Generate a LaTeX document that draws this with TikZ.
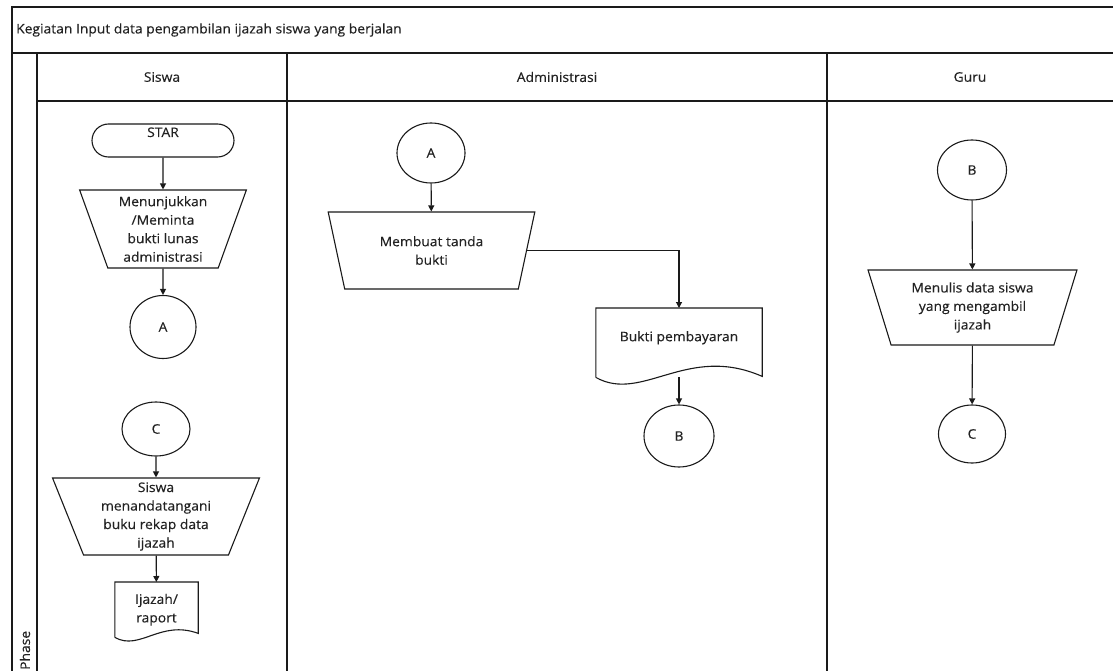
\documentclass[tikz,border=0pt]{standalone}
\usepackage{fontspec}
\setmainfont{Open Sans}[FakeStretch=1.05,FakeBold=0.3]
\usetikzlibrary{shapes.geometric,arrows.meta,calc}
\definecolor{ln}{HTML}{1A1A1A}
\definecolor{tx}{HTML}{222222}
\newcommand\lblfont{\fontsize{13.2}{18.5}\selectfont}
\begin{document}
\begin{tikzpicture}[x=1pt,y=-1pt,
  frame/.style={draw=ln, line width=1.8},
  shp/.style={draw=ln, line width=1.1, text=tx, font=\lblfont, align=center},
  plain/.style={text=tx, font=\lblfont, inner sep=1},
  trap/.style={shp, trapezium, shape border rotate=180, trapezium left angle=71,
    trapezium right angle=71, trapezium stretches=true, inner sep=0},
  conn/.style={shp, ellipse, inner sep=0},
  docbox/.style={text=tx, font=\lblfont, align=center, inner sep=2},
  outl/.style={draw=ln, line width=1.1},
  arr/.style={draw=ln, line width=1.1, -{Triangle[length=6,width=6]}}]
\useasboundingbox (0,0) rectangle (1113,671);
\fill[white] (0,0) rectangle (1113,671);

% frame
\draw[frame] (12,671) -- (12,7) -- (1113,7);
\draw[frame] (12,53) -- (1113,53);
\draw[frame] (37,101) -- (1113,101);
\draw[frame] (37,53) -- (37,671);
\draw[frame] (287,53) -- (287,671);
\draw[frame] (827,53) -- (827,671);

\node[plain, anchor=west] (title) at (15,30) {Kegiatan Input data pengambilan ijazah siswa yang berjalan};
\node[plain] (hsiswa) at (162,77) {Siswa};
\node[plain] (hadmin) at (557,77) {Administrasi};
\node[plain] (hguru) at (970,77) {Guru};
\node[plain, rotate=90, anchor=west] (phase) at (25,671) {Phase};

% Siswa lane
\node[shp, rounded corners=16.5, minimum width=142, minimum height=33,
  inner ysep=2, text height=11, text depth=18] (star) at (163,140.5) {STAR};
\node[trap, minimum width=167, minimum height=78] (t1) at (163,229)
  {Menunjukkan\\/Meminta\\bukti lunas\\administrasi};
\node[conn, minimum width=66, minimum height=63] (a1) at (163,327) {A};
\node[conn, minimum width=68, minimum height=54] (c1) at (156,429) {C};
\node[trap, minimum width=207, minimum height=77] (t2) at (156,516.5)
  {Siswa\\menandatangani\\buku rekap data\\ijazah};
\node[docbox, minimum width=83, minimum height=55, anchor=north] (ij) at (156.5,582) {Ijazah/\\raport};
\draw[outl] (ij.south west) -- (ij.north west) -- (ij.north east) -- ($(ij.south east)+(0,-4)$)
  .. controls ($(ij.south west)+(0.55*83,-18)$) and ($(ij.south west)+(0.3*83,14)$) .. (ij.south west);

\draw[arr] (star) -- (t1);
\draw[arr] (t1) -- (a1);
\draw[arr] (c1) -- (t2);
\draw[arr] (t2) -- (ij);

% Administrasi lane
\node[conn, minimum width=68, minimum height=60] (a2) at (431,153) {A};
\node[trap, minimum width=207, minimum height=77] (t3) at (431.5,250.5)
  {Membuat tanda\\bukti};
\node[docbox, minimum width=166, minimum height=69, anchor=north,
  text height=31, text depth=34] (bp) at (679,308) {Bukti pembayaran};
\draw[outl] (bp.south west) -- (bp.north west) -- (bp.north east) -- ($(bp.south east)+(0,-1)$)
  .. controls ($(bp.south west)+(0.55*166,-34)$) and ($(bp.south west)+(0.28*166,26)$) .. (bp.south west);
\node[conn, minimum width=70, minimum height=62] (b2) at (679,436) {B};

\draw[arr] (a2) -- (t3);
\draw[arr] (t3.east) -| (bp.north);
\draw[arr] (bp.south) -- (b2);

% Guru lane
\node[conn, minimum width=69, minimum height=60] (b3) at (972,170) {B};
\node[trap, minimum width=209, minimum height=75] (t4) at (972.5,307.5)
  {Menulis data siswa\\yang mengambil\\ijazah};
\node[conn, minimum width=67, minimum height=58] (c3) at (972,434) {C};

\draw[arr] (b3) -- (t4);
\draw[arr] (t4) -- (c3);
\end{tikzpicture}
\end{document}
